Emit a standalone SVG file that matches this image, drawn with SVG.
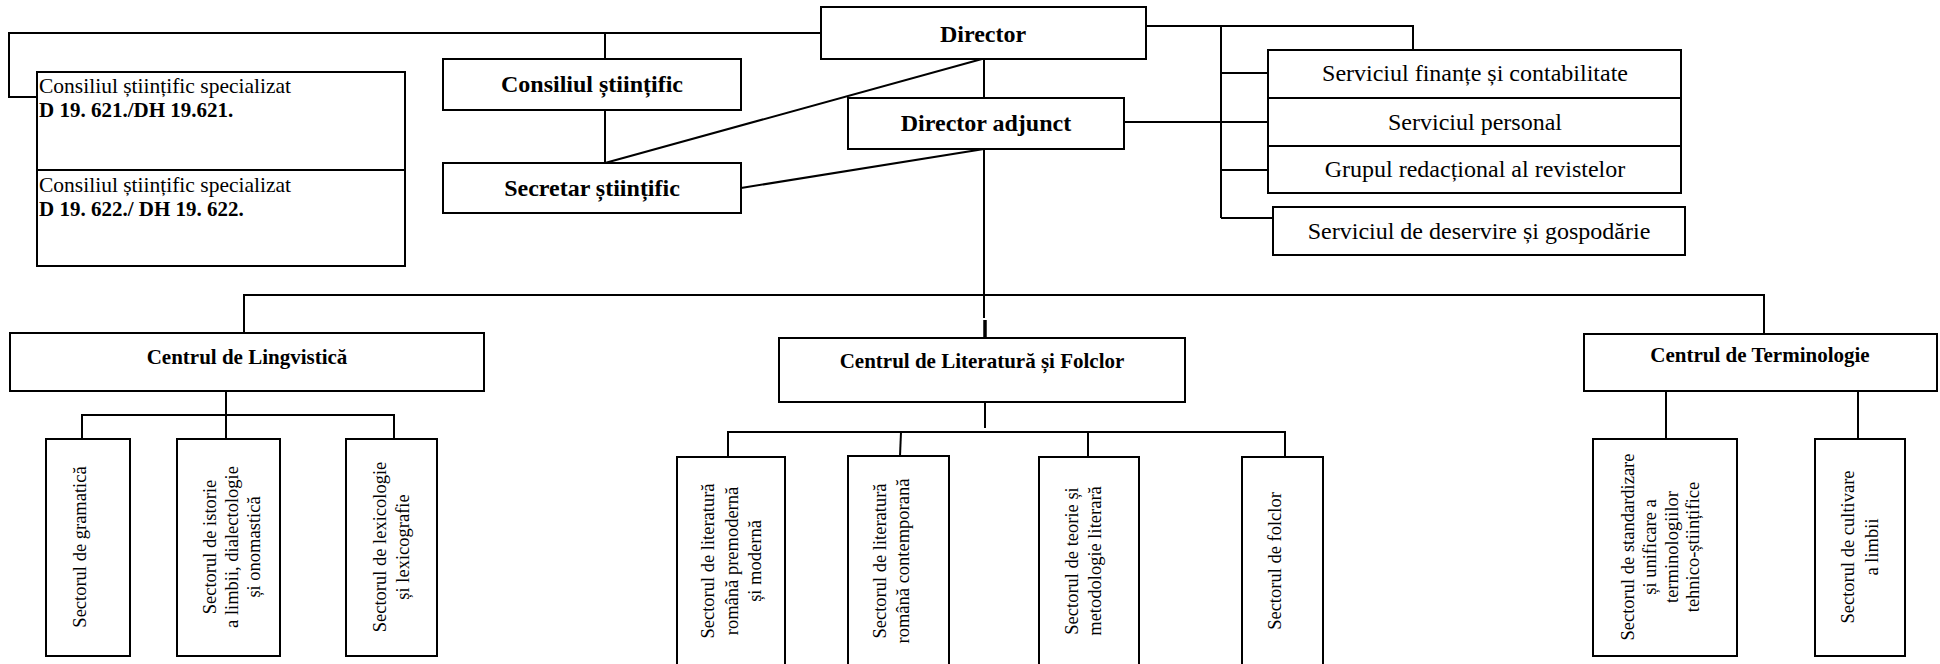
<svg xmlns="http://www.w3.org/2000/svg" width="1940" height="664" viewBox="0 0 1940 664">
<style>
.b{fill:#fff;stroke:#000;stroke-width:2}
.c{fill:none;stroke:#000;stroke-width:2}
text{font-family:"Liberation Serif","Times New Roman",serif;fill:#000}
.t{font-size:24px;font-weight:bold;text-anchor:middle}
.h{font-size:21px;font-weight:bold;text-anchor:middle}
.s{font-size:24px;text-anchor:middle}
.p{font-size:21.5px}
.pb{font-size:21px;font-weight:bold}
.v{font-size:18.5px;text-anchor:middle}
</style>
<rect width="1940" height="664" fill="#fff"/>
<g id="connectors">
<polyline class="c" points="821,33 9,33 9,97 37,97"/>
<line class="c" x1="605" y1="33" x2="605" y2="59"/>
<line class="c" x1="605" y1="110" x2="605" y2="163"/>
<line class="c" x1="982" y1="59" x2="605" y2="163"/>
<line class="c" x1="984" y1="149" x2="741" y2="188"/>
<line class="c" x1="984" y1="59" x2="984" y2="98"/>
<polyline class="c" points="1146,26 1413,26 1413,50"/>
<line class="c" x1="1221" y1="26" x2="1221" y2="218"/>
<line class="c" x1="1221" y1="73" x2="1268" y2="73"/>
<line class="c" x1="1124" y1="122" x2="1268" y2="122"/>
<line class="c" x1="1221" y1="170" x2="1268" y2="170"/>
<line class="c" x1="1221" y1="218" x2="1273" y2="218"/>
<line class="c" x1="984" y1="149" x2="984" y2="318"/>
<line stroke="#000" stroke-width="3.5" x1="985" y1="320" x2="985" y2="365"/>
<polyline class="c" points="244,333 244,295 1764,295 1764,334"/>
<line class="c" x1="226" y1="391" x2="226" y2="439"/>
<polyline class="c" points="82,439 82,415 394,415 394,439"/>
<line class="c" x1="985" y1="402" x2="985" y2="428"/>
<polyline class="c" points="728,457 728,432 1285,432 1285,457"/>
<line class="c" x1="901" y1="432" x2="900" y2="456"/>
<line class="c" x1="1088" y1="432" x2="1088" y2="457"/>
<line class="c" x1="1666" y1="391" x2="1666" y2="439"/>
<line class="c" x1="1858" y1="391" x2="1858" y2="439"/>
</g>
<g id="director"><rect class="b" x="821" y="7" width="325" height="52"/><text class="t" x="983" y="42">Director</text></g>
<g id="director-adjunct"><rect class="b" x="848" y="98" width="276" height="51"/><text class="t" x="986" y="131">Director adjunct</text></g>
<g id="consiliul-stiintific"><rect class="b" x="443" y="59" width="298" height="51"/><text class="t" x="592" y="92">Consiliul științific</text></g>
<g id="secretar-stiintific"><rect class="b" x="443" y="163" width="298" height="50"/><text class="t" x="592" y="196">Secretar științific</text></g>
<g id="consiliul-specializat-1"><rect class="b" x="37" y="72" width="368" height="98"/><text class="p" x="39" y="93">Consiliul științific specializat</text><text class="pb" x="39" y="117">D 19. 621./DH 19.621.</text></g>
<g id="consiliul-specializat-2"><rect class="b" x="37" y="170" width="368" height="96"/><text class="p" x="39" y="192">Consiliul științific specializat</text><text class="pb" x="39" y="216">D 19. 622./ DH 19. 622.</text></g>
<g id="serviciul-finante"><rect class="b" x="1268" y="50" width="413" height="48"/><text class="s" x="1475" y="81">Serviciul finanțe și contabilitate</text></g>
<g id="serviciul-personal"><rect class="b" x="1268" y="98" width="413" height="48"/><text class="s" x="1475" y="130">Serviciul personal</text></g>
<g id="grupul-redactional"><rect class="b" x="1268" y="146" width="413" height="47"/><text class="s" x="1475" y="177">Grupul redacțional al revistelor</text></g>
<g id="serviciul-deservire"><rect class="b" x="1273" y="207" width="412" height="48"/><text class="s" x="1479" y="239">Serviciul de deservire și gospodărie</text></g>
<g id="centrul-lingvistica"><rect class="b" x="10" y="333" width="474" height="58"/><text class="h" x="247" y="364">Centrul de Lingvistică</text></g>
<g id="centrul-literatura"><rect class="b" x="779" y="338" width="406" height="64"/><text class="h" x="982" y="368">Centrul de Literatură și Folclor</text></g>
<g id="centrul-terminologie"><rect class="b" x="1584" y="334" width="353" height="57"/><text class="h" x="1760" y="362">Centrul de Terminologie</text></g>
<g id="sector-gramatica"><rect class="b" x="46" y="439" width="84" height="217"/><text class="v" transform="translate(86,547) rotate(-90)"><tspan x="0" y="0">Sectorul de gramatică</tspan></text></g>
<g id="sector-istorie"><rect class="b" x="177" y="439" width="103" height="217"/><text class="v" transform="translate(216,547) rotate(-90)"><tspan x="0" y="0">Sectorul de istorie</tspan><tspan x="0" y="22">a limbii, dialectologie</tspan><tspan x="0" y="44">și onomastică</tspan></text></g>
<g id="sector-lexicologie"><rect class="b" x="346" y="439" width="91" height="217"/><text class="v" transform="translate(386,547) rotate(-90)"><tspan x="0" y="0">Sectorul de lexicologie</tspan><tspan x="0" y="23">și lexicografie</tspan></text></g>
<g id="sector-lit-premoderna"><rect class="b" x="677" y="457" width="108" height="210"/><text class="v" transform="translate(714,561) rotate(-90)"><tspan x="0" y="0">Sectorul de literatură</tspan><tspan x="0" y="23.5">română premodernă</tspan><tspan x="0" y="47">și modernă</tspan></text></g>
<g id="sector-lit-contemporana"><rect class="b" x="848" y="456" width="101" height="211"/><text class="v" transform="translate(886,561) rotate(-90)"><tspan x="0" y="0">Sectorul de literatură</tspan><tspan x="0" y="23">română contemporană</tspan></text></g>
<g id="sector-teorie"><rect class="b" x="1039" y="457" width="100" height="210"/><text class="v" transform="translate(1078,561) rotate(-90)"><tspan x="0" y="0">Sectorul de teorie și</tspan><tspan x="0" y="23">metodologie literară</tspan></text></g>
<g id="sector-folclor"><rect class="b" x="1242" y="457" width="81" height="210"/><text class="v" transform="translate(1281,561) rotate(-90)"><tspan x="0" y="0">Sectorul de folclor</tspan></text></g>
<g id="sector-standardizare"><rect class="b" x="1593" y="439" width="144" height="217"/><text class="v" transform="translate(1634,547) rotate(-90)"><tspan x="0" y="0">Sectorul de standardizare</tspan><tspan x="0" y="22">și unificare a</tspan><tspan x="0" y="44">terminologiilor</tspan><tspan x="0" y="65">tehnico-științifice</tspan></text></g>
<g id="sector-cultivare"><rect class="b" x="1815" y="439" width="90" height="217"/><text class="v" transform="translate(1854,547) rotate(-90)"><tspan x="0" y="0">Sectorul de cultivare</tspan><tspan x="0" y="24">a limbii</tspan></text></g>
</svg>
